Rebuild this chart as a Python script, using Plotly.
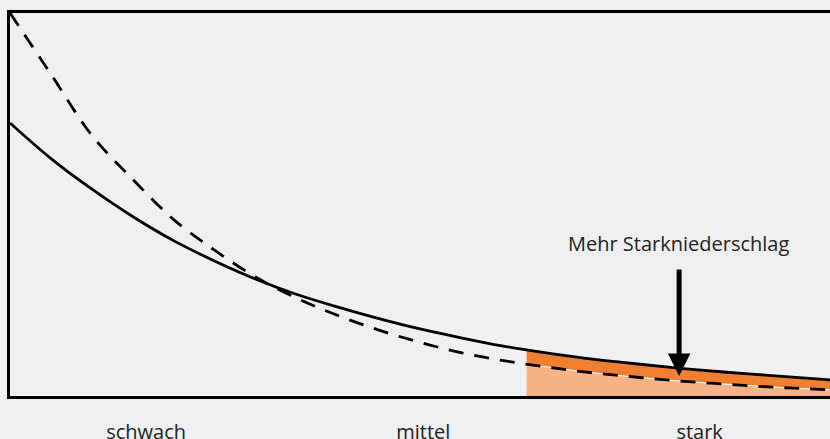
import plotly.graph_objects as go

# intensity axis (0 = weak, 1 = strong)
x_vals = [0, 0.05, 0.1, 0.15, 0.2, 0.25, 0.3, 0.35, 0.4, 0.45, 0.5,
          0.55, 0.6, 0.65, 0.7, 0.75, 0.8, 0.85, 0.9, 0.95, 1.0]
# frequency now (solid) and earlier (dashed)
solid_vals = [0.713, 0.62, 0.54, 0.468, 0.405, 0.352, 0.305, 0.265, 0.232, 0.202, 0.175,
              0.152, 0.131, 0.114, 0.099, 0.087, 0.076, 0.066, 0.058, 0.050, 0.042]
dashed_vals = [1.0, 0.84, 0.68, 0.565, 0.46, 0.38, 0.31, 0.255, 0.21, 0.172, 0.14,
               0.113, 0.093, 0.077, 0.063, 0.052, 0.042, 0.034, 0.027, 0.021, 0.016]

# strong-precipitation section (shaded)
strong_x = [0.63, 0.65, 0.7, 0.75, 0.8, 0.85, 0.9, 0.95, 1.0]
strong_solid = [0.121, 0.114, 0.099, 0.087, 0.076, 0.066, 0.058, 0.050, 0.042]
strong_dashed = [0.083, 0.077, 0.063, 0.052, 0.042, 0.034, 0.027, 0.021, 0.016]

category_pos = [0.166, 0.504, 0.841]
category_labels = ["schwach", "mittel", "stark"]
annotation_text = "Mehr Starkniederschlag"

bg = "#eff0f2"
dark_orange = "#f0802f"
light_orange = "#f6b486"
font_family = "'Open Sans', Lato, sans-serif"

fig = go.Figure()
fig.add_trace(go.Scatter(x=strong_x, y=strong_dashed, mode="lines", line=dict(color="white", width=1),
                         fill="tozeroy", fillcolor=light_orange, hoverinfo="skip"))
fig.add_trace(go.Scatter(x=strong_x, y=strong_solid, mode="lines", line=dict(color=dark_orange, width=0),
                         fill="tonexty", fillcolor=dark_orange, hoverinfo="skip"))
fig.add_trace(go.Scatter(x=x_vals, y=solid_vals, mode="lines",
                         line=dict(color="black", width=2.8, shape="spline")))
fig.add_trace(go.Scatter(x=x_vals, y=dashed_vals, mode="lines",
                         line=dict(color="black", width=2.8, shape="spline", dash="15px,11px")))

fig.add_annotation(x=0.816, y=0.052, ax=0.816, ay=0.334, xref="x", yref="y", axref="x", ayref="y",
                   text="", showarrow=True, arrowhead=2, arrowsize=0.9, arrowwidth=5, arrowcolor="black")
fig.add_annotation(x=0.815, y=0.398, xref="x", yref="y", text=annotation_text, showarrow=False,
                   font=dict(family=font_family, size=20, color="#222222"))

fig.update_layout(
    width=830, height=439,
    margin=dict(l=10, r=0, t=13, b=43),
    paper_bgcolor=bg, plot_bgcolor=bg,
    showlegend=False,
    xaxis=dict(range=[0, 1], showgrid=False, zeroline=False, showline=True, mirror=True,
               linecolor="black", linewidth=2.5, tickvals=category_pos, ticktext=category_labels,
               ticks="", ticklabelstandoff=16, automargin=False,
               tickfont=dict(family=font_family, size=20, color="#222222")),
    yaxis=dict(range=[0, 1], showgrid=False, zeroline=False, showline=True, mirror=False,
               linecolor="black", linewidth=2.5, showticklabels=False, ticks="", automargin=False),
)

fig.write_html("out.html", config={"displayModeBar": False},
               post_script="document.body.style.margin='0';document.body.style.background='#eff0f2';")
